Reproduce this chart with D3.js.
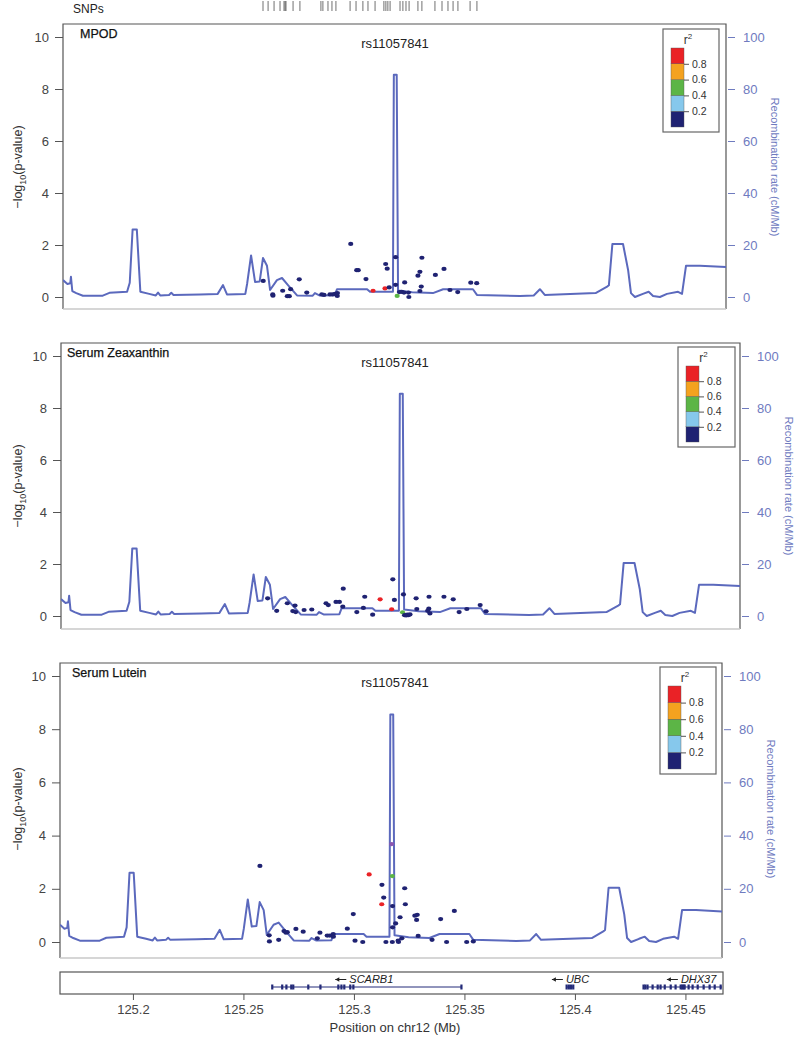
<!DOCTYPE html>
<html>
<head>
<meta charset="utf-8">
<script src="https://cdn.jsdelivr.net/npm/d3@7"></script>
<style>
  body { margin: 0; background: #fff; }
  svg { font-family: "Liberation Sans", Arial, sans-serif; }
</style>
</head>
<body>
<svg id="chart" width="800" height="1038"></svg>
<script>
// ---- data ----
const xDomain = [125.167, 125.467];
const xTicks = [125.2, 125.25, 125.3, 125.35, 125.4, 125.45];
const yTicks = [0, 2, 4, 6, 8, 10];
const rateTicks = [0, 20, 40, 60, 80, 100];

// recombination rate (cM/Mb), same in all panels
const recombPos = [125.1670, 125.1690, 125.1703, 125.1706, 125.1712, 125.1730, 125.1760, 125.1850, 125.1880, 125.1960,
  125.1972, 125.1985, 125.2004, 125.2020, 125.2060, 125.2090, 125.2100, 125.2110, 125.2150, 125.2160,
  125.2170, 125.2290, 125.2370, 125.2394, 125.2412, 125.2495, 125.2503, 125.2521, 125.2539, 125.2560,
  125.2575, 125.2593, 125.2607, 125.2638, 125.2661, 125.2688, 125.2729, 125.2800, 125.2810, 125.2830,
  125.2900, 125.2910, 125.3046, 125.3059, 125.3163, 125.3167, 125.3180, 125.3186, 125.3250, 125.3344,
  125.3390, 125.3525, 125.3543, 125.3738, 125.3800, 125.3828, 125.3850, 125.4080, 125.4132, 125.4140,
  125.4156, 125.4204, 125.4227, 125.4240, 125.4258, 125.4294, 125.4320, 125.4340, 125.4371, 125.4403,
  125.4453, 125.4471, 125.4489, 125.4552, 125.4670];
const recombRate = [6.5, 5.0, 5.3, 7.8, 2.3, 1.5, 0.5, 0.5, 1.6, 2.0,
  5.5, 26, 26, 2.0, 1.2, 0.6, 1.7, 0.6, 0.8, 1.6,
  0.8, 1.0, 1.2, 4.6, 1.0, 1.2, 5, 16, 5.8, 6,
  15, 12, 2.7, 6.5, 7.3, 4.6, 0.6, 0.5, 1.5, 0.6,
  0.7, 3.0, 3.0, 2.0, 2.0, 85.5, 85.5, 2.5, 1.8, 1.5,
  3.0, 3.0, 0.8, 0.4, 0.6, 3.0, 0.8, 1.5, 4.0, 4.5,
  20.4, 20.4, 10.4, 1.5, 0.0, 1.2, 2.0, 0.4, 0.0, 1.2,
  2.0, 1.2, 12.0, 12.0, 11.5];

// SNP positions shown in the top rug
const snpPos = [125.2575, 125.2598, 125.2625, 125.2652, 125.2670, 125.2675, 125.2679, 125.2711, 125.2742, 125.2837,
  125.2846, 125.2869, 125.2887, 125.2905, 125.2969, 125.2996, 125.3027, 125.3050, 125.3082, 125.3122,
  125.3131, 125.3140, 125.3150, 125.3195, 125.3208, 125.3222, 125.3236, 125.3276, 125.3294, 125.3353,
  125.3385, 125.3412, 125.3435, 125.3457, 125.3512, 125.3543];

// MPOD
const mpodPos = [125.2576, 125.2619, 125.2620, 125.2664, 125.2685, 125.2694, 125.2700, 125.2739, 125.2773, 125.2841,
  125.2851, 125.2878, 125.2890, 125.2901, 125.2911, 125.2912, 125.2972, 125.2999, 125.3006, 125.3041,
  125.3073, 125.3127, 125.3130, 125.3137, 125.3146, 125.3175, 125.3175, 125.3182, 125.3192, 125.3203,
  125.3216, 125.3213, 125.3233, 125.3235, 125.3276, 125.3285, 125.3294, 125.3291, 125.3285, 125.3355,
  125.3394, 125.3421, 125.3456, 125.3515, 125.3542];
const mpodLogP = [0.62, 0.10, 0.05, 0.24, 0.03, 0.03, 0.30, 0.68, 0.17, 0.10,
  0.08, 0.10, 0.10, 0.12, 0.04, 0.15, 2.04, 1.03, 1.03, 0.69,
  0.24, 0.33, 1.27, 1.09, 0.37, 1.53, 0.47, 0.04, 0.19, 0.20,
  0.56, 0.17, 0.17, 0.00, 0.82, 0.97, 1.51, 0.40, 0.23, 0.85,
  1.08, 0.27, 0.19, 0.55, 0.53];
const mpodR2 = [0.1, 0.1, 0.1, 0.1, 0.1, 0.1, 0.1, 0.1, 0.1, 0.1,
  0.1, 0.1, 0.1, 0.1, 0.1, 0.1, 0.1, 0.1, 0.1, 0.1,
  0.85, 0.85, 0.1, 0.1, 0.1, 0.1, 0.1, 0.5, 0.1, 0.1,
  0.1, 0.1, 0.1, 0.1, 0.1, 0.1, 0.1, 0.1, 0.1, 0.1,
  0.1, 0.1, 0.1, 0.1, 0.1];

// Serum Zeaxanthin
const zeaPos = [125.2583, 125.2623, 125.2670, 125.2694, 125.2704, 125.2707, 125.2744, 125.2778, 125.2841, 125.2851,
  125.2885, 125.2900, 125.2915, 125.2917, 125.2977, 125.3006, 125.3012, 125.3047, 125.3080, 125.3131,
  125.3136, 125.3143, 125.3183, 125.3179, 125.3188, 125.3195, 125.3200, 125.3205, 125.3212, 125.3239,
  125.3242, 125.3290, 125.3296, 125.3295, 125.3300, 125.3362, 125.3403, 125.3429, 125.3463, 125.3522,
  125.3548];
const zeaLogP = [0.68, 0.20, 0.49, 0.19, 0.40, 0.15, 0.23, 0.25, 0.49, 0.42,
  0.54, 0.54, 0.36, 1.05, 0.15, 0.31, 0.74, 0.05, 0.64, 0.26,
  1.41, 0.62, 0.83, 0.14, 0.03, 0.02, 0.05, 0.03, 0.06, 0.68,
  0.27, 0.20, 0.74, 0.28, 0.10, 0.74, 0.64, 0.15, 0.27, 0.42,
  0.18];
const zeaR2 = [0.1, 0.1, 0.1, 0.1, 0.1, 0.1, 0.1, 0.1, 0.1, 0.1,
  0.1, 0.1, 0.1, 0.1, 0.1, 0.1, 0.1, 0.1, 0.85, 0.85,
  0.1, 0.1, 0.1, 0.5, 0.1, 0.1, 0.1, 0.1, 0.1, 0.1,
  0.1, 0.1, 0.1, 0.1, 0.1, 0.1, 0.1, 0.1, 0.1, 0.1,
  0.1];

// Serum Lutein
const lutPos = [125.2576, 125.2618, 125.2619, 125.2661, 125.2685, 125.2694, 125.2700, 125.2739, 125.2772, 125.2836,
  125.2848, 125.2881, 125.2893, 125.2908, 125.2909, 125.2972, 125.2999, 125.3007, 125.3042, 125.3071,
  125.3129, 125.3137, 125.3128, 125.3147, 125.3173, 125.3176, 125.3177, 125.3177, 125.3176, 125.3191,
  125.3202, 125.3204, 125.3211, 125.3219, 125.3232, 125.3235, 125.3278, 125.3289, 125.3286, 125.3293,
  125.3356, 125.3395, 125.3422, 125.3457, 125.3513, 125.3543];
const lutLogP = [2.86, 0.25, 0.02, 0.08, 0.41, 0.35, 0.37, 0.49, 0.39, 0.14,
  0.35, 0.24, 0.24, 0.30, 0.20, 0.50, 1.05, 0.05, 0.00, 2.54,
  2.15, 1.67, 1.42, 0.00, 3.68, 2.48, 1.35, 0.55, 0.00, 0.70,
  0.05, 0.00, 0.93, 0.14, 2.02, 1.42, 0.99, 1.02, 0.83, 0.23,
  0.08, 0.86, 0.00, 1.17, 0.00, 0.02];
const lutR2 = [0.1, 0.1, 0.1, 0.1, 0.1, 0.1, 0.1, 0.1, 0.1, 0.1,
  0.1, 0.1, 0.1, 0.1, 0.1, 0.1, 0.1, 0.1, 0.1, 0.85,
  0.1, 0.1, 0.85, 0.1, 1.0, 0.5, 0.1, 0.1, 0.1, 0.1,
  0.1, 0.1, 0.1, 0.1, 0.1, 0.1, 0.1, 0.1, 0.1, 0.1,
  0.1, 0.1, 0.1, 0.1, 0.1, 0.1];

// r2 colour key
const r2Breaks = [0.2, 0.4, 0.6, 0.8, 1.0];
const r2Colors = ["#1f2272", "#86c8ec", "#5cb546", "#f4a21f", "#ea2226", "#8a56b0"];
const r2KeyTicks = [0.2, 0.4, 0.6, 0.8];

// genes
const geneNames = ["SCARB1", "UBC", "DHX37"];
const geneStart = [125.2630, 125.3962, 125.4310];
const geneEnd = [125.3486, 125.3995, 125.4665];
const geneLabelPos = [125.3047, 125.3980, 125.4528];
const geneExons = [
  [125.2630, 125.2675, 125.2694, 125.2716, 125.2725, 125.2793, 125.2848, 125.2929, 125.2943, 125.2956, 125.2983, 125.2997, 125.3486],
  [125.3962, 125.3972, 125.3982, 125.3992],
  [125.4310, 125.4318, 125.4328, 125.4351, 125.4374, 125.4387, 125.4406, 125.4433, 125.4455, 125.4478, 125.4485, 125.4491, 125.4496, 125.4514, 125.4532, 125.4555, 125.4582, 125.4609, 125.4632, 125.4659]
];

// ---- layout ----
const svg = d3.select("#chart");
const lineColor = "#5b69bd";
const rateColor = "#6f7bbf";
const textColor = "#444";

const panels = [
  { name: "MPOD", pos: mpodPos, logp: mpodLogP, r2: mpodR2,
    left: 63, right: 726, top: 24, bottom: 309, y0: 297, y10: 37, nameDx: 17,
    legend: { x: 663, y: 29, w: 56, h: 103 } },
  { name: "Serum Zeaxanthin", pos: zeaPos, logp: zeaLogP, r2: zeaR2,
    left: 61, right: 740, top: 343, bottom: 629, y0: 616, y10: 356, nameDx: 6,
    legend: { x: 678, y: 347, w: 57, h: 100 } },
  { name: "Serum Lutein", pos: lutPos, logp: lutLogP, r2: lutR2,
    left: 60, right: 722, top: 663, bottom: 958, y0: 942, y10: 676, nameDx: 12,
    legend: { x: 660, y: 667, w: 56, h: 107 } }
];

const colorScale = d3.scaleThreshold().domain(r2Breaks).range(r2Colors);

// SNP rug at top
const xTop = d3.scaleLinear().domain(xDomain).range([63, 726]);
svg.append("text").attr("x", 73).attr("y", 13)
  .attr("font-size", 12).attr("fill", "#222").text("SNPs");
svg.append("g").selectAll("line").data(snpPos).enter().append("line")
  .attr("x1", d => xTop(d)).attr("x2", d => xTop(d))
  .attr("y1", 1).attr("y2", 11)
  .attr("stroke", "#333").attr("stroke-width", 0.7);

panels.forEach((p, i) => {
  const x = d3.scaleLinear().domain(xDomain).range([p.left, p.right]);
  const y = d3.scaleLinear().domain([0, 10]).range([p.y0, p.y10]);
  const yr = d3.scaleLinear().domain([0, 100]).range([p.y0, p.y10]);
  const g = svg.append("g");

  const clipId = "clip" + i;
  svg.append("clipPath").attr("id", clipId).append("rect")
    .attr("x", p.left).attr("y", p.top)
    .attr("width", p.right - p.left).attr("height", p.bottom - p.top);

  // frame
  g.append("path")
    .attr("d", `M${p.left},${p.bottom}V${p.top}H${p.right}V${p.bottom}`)
    .attr("fill", "none").attr("stroke", "#555").attr("stroke-width", 1.2);
  g.append("line")
    .attr("x1", p.left).attr("x2", p.right).attr("y1", p.bottom).attr("y2", p.bottom)
    .attr("stroke", "#c8c8c8").attr("stroke-width", 1.5);

  // left axis
  const ya = g.append("g").attr("transform", `translate(${p.left},0)`)
    .call(d3.axisLeft(y).tickValues(yTicks).tickSize(8).tickPadding(6));
  ya.select(".domain").remove();
  ya.selectAll("line").attr("stroke", "#555");
  ya.selectAll("text").attr("font-size", 13).attr("fill", textColor)
    .attr("font-family", "Liberation Sans, Arial, sans-serif");

  // right axis
  const ra = g.append("g").attr("transform", `translate(${p.right + 2},0)`)
    .call(d3.axisRight(yr).tickValues(rateTicks).tickSize(7).tickPadding(8));
  ra.select(".domain").remove();
  ra.selectAll("line").attr("stroke", rateColor);
  ra.selectAll("text").attr("font-size", 13).attr("fill", rateColor)
    .attr("font-family", "Liberation Sans, Arial, sans-serif");

  // axis titles
  const midY = (p.y0 + p.y10) / 2;
  const lt = g.append("text")
    .attr("transform", `translate(22,${midY}) rotate(-90)`)
    .attr("text-anchor", "middle").attr("font-size", 12.5).attr("fill", "#333");
  lt.append("tspan").text("\u2212log");
  lt.append("tspan").attr("font-size", 9).attr("dy", 4).text("10");
  lt.append("tspan").attr("dy", -4).text("(p-value)");

  g.append("text")
    .attr("transform", `translate(${p.right + 45},${midY}) rotate(90)`)
    .attr("text-anchor", "middle").attr("font-size", 11).attr("fill", rateColor)
    .text("Recombination rate (cM/Mb)");

  // recombination line
  const line = d3.line().x(d => x(d[0])).y(d => yr(d[1]));
  g.append("path")
    .datum(recombPos.map((d, k) => [d, recombRate[k]]))
    .attr("clip-path", `url(#${clipId})`)
    .attr("d", line)
    .attr("fill", "none").attr("stroke", lineColor)
    .attr("stroke-width", 2).attr("stroke-linejoin", "round");

  // association points
  g.append("g").selectAll("ellipse")
    .data(p.pos.map((d, k) => ({ pos: d, lp: p.logp[k], r2: p.r2[k] })))
    .enter().append("ellipse")
    .attr("cx", d => x(d.pos)).attr("cy", d => y(d.lp))
    .attr("rx", 2.6).attr("ry", 2.1)
    .attr("fill", d => colorScale(d.r2));

  // labels
  g.append("text").attr("x", p.left + p.nameDx).attr("y", p.top + 14)
    .attr("font-size", 12.5).attr("fill", "#111").attr("stroke", "#111").attr("stroke-width", 0.25)
    .text(p.name);
  g.append("text").attr("x", 395).attr("y", p.y10 + 11)
    .attr("text-anchor", "middle").attr("font-size", 13).attr("fill", "#222").text("rs11057841");

  // r2 key
  const L = p.legend;
  g.append("rect").attr("x", L.x).attr("y", L.y).attr("width", L.w).attr("height", L.h)
    .attr("fill", "#fff").attr("stroke", "#666").attr("stroke-width", 1.2);
  const barTop = L.y + 19, barBot = L.y + L.h - 5;
  const ky = d3.scaleLinear().domain([0, 1]).range([barBot, barTop]);
  const bx = L.x + 8, bw = 13;
  const segs = [0, 0.2, 0.4, 0.6, 0.8];
  g.append("g").selectAll("rect").data(segs).enter().append("rect")
    .attr("x", bx).attr("y", d => ky(d + 0.2)).attr("width", bw)
    .attr("height", d => ky(d) - ky(d + 0.2))
    .attr("fill", d => colorScale(d + 0.1)).attr("stroke", "#555").attr("stroke-width", 0.4);
  const ka = g.append("g").attr("transform", `translate(${bx + bw},0)`)
    .call(d3.axisRight(ky).tickValues(r2KeyTicks).tickSize(5).tickPadding(3).tickFormat(d3.format(".1f")));
  ka.select(".domain").remove();
  ka.selectAll("line").attr("stroke", "#555");
  ka.selectAll("text").attr("font-size", 10.5).attr("fill", "#333")
    .attr("font-family", "Liberation Sans, Arial, sans-serif");
  const kt = g.append("text").attr("x", L.x + L.w / 2 - 3).attr("y", L.y + 15)
    .attr("text-anchor", "middle").attr("font-size", 12).attr("fill", "#333");
  kt.append("tspan").text("r");
  kt.append("tspan").attr("font-size", 8).attr("dy", -5).text("2");
});

// gene track
const xg = d3.scaleLinear().domain(xDomain).range([60, 723]);
const gt = svg.append("g");
gt.append("rect").attr("x", 60).attr("y", 972).attr("width", 663).attr("height", 22)
  .attr("fill", "#fff").attr("stroke", "#555").attr("stroke-width", 1.2);
const geneY = 987;
const geneColor = "#232a78";
geneNames.forEach((name, k) => {
  gt.append("line").attr("x1", xg(geneStart[k])).attr("x2", xg(geneEnd[k]))
    .attr("y1", geneY).attr("y2", geneY).attr("stroke", geneColor).attr("stroke-width", 1);
  gt.append("g").selectAll("rect").data(geneExons[k]).enter().append("rect")
    .attr("x", d => xg(d) - 1).attr("y", geneY - 2.5).attr("width", 2.2).attr("height", 5)
    .attr("fill", geneColor);

  // label with a leftward arrow (minus strand)
  const t = gt.append("text").attr("x", xg(geneLabelPos[k]) + 7).attr("y", 983)
    .attr("text-anchor", "middle").attr("font-size", 11).attr("font-style", "italic").attr("fill", "#222")
    .text(name);
  const bb = t.node().getBBox();
  const ax1 = bb.x - 3, ax0 = ax1 - 11, ay = 979.5;
  gt.append("line").attr("x1", ax0).attr("x2", ax1).attr("y1", ay).attr("y2", ay)
    .attr("stroke", "#222").attr("stroke-width", 1);
  gt.append("path").attr("d", `M${ax0},${ay}l4,-2.2v4.4z`).attr("fill", "#222");
});

const xa = svg.append("g").attr("transform", "translate(0,994)")
  .call(d3.axisBottom(xg).tickValues(xTicks).tickSize(6).tickPadding(5).tickFormat(d => String(+d.toFixed(2))));
xa.select(".domain").remove();
xa.selectAll("line").attr("stroke", "#555");
xa.selectAll("text").attr("font-size", 13).attr("fill", textColor)
  .attr("font-family", "Liberation Sans, Arial, sans-serif");
svg.append("text").attr("x", 395).attr("y", 1032).attr("text-anchor", "middle")
  .attr("font-size", 13).attr("fill", "#333").text("Position on chr12 (Mb)");
</script>
</body>
</html>
